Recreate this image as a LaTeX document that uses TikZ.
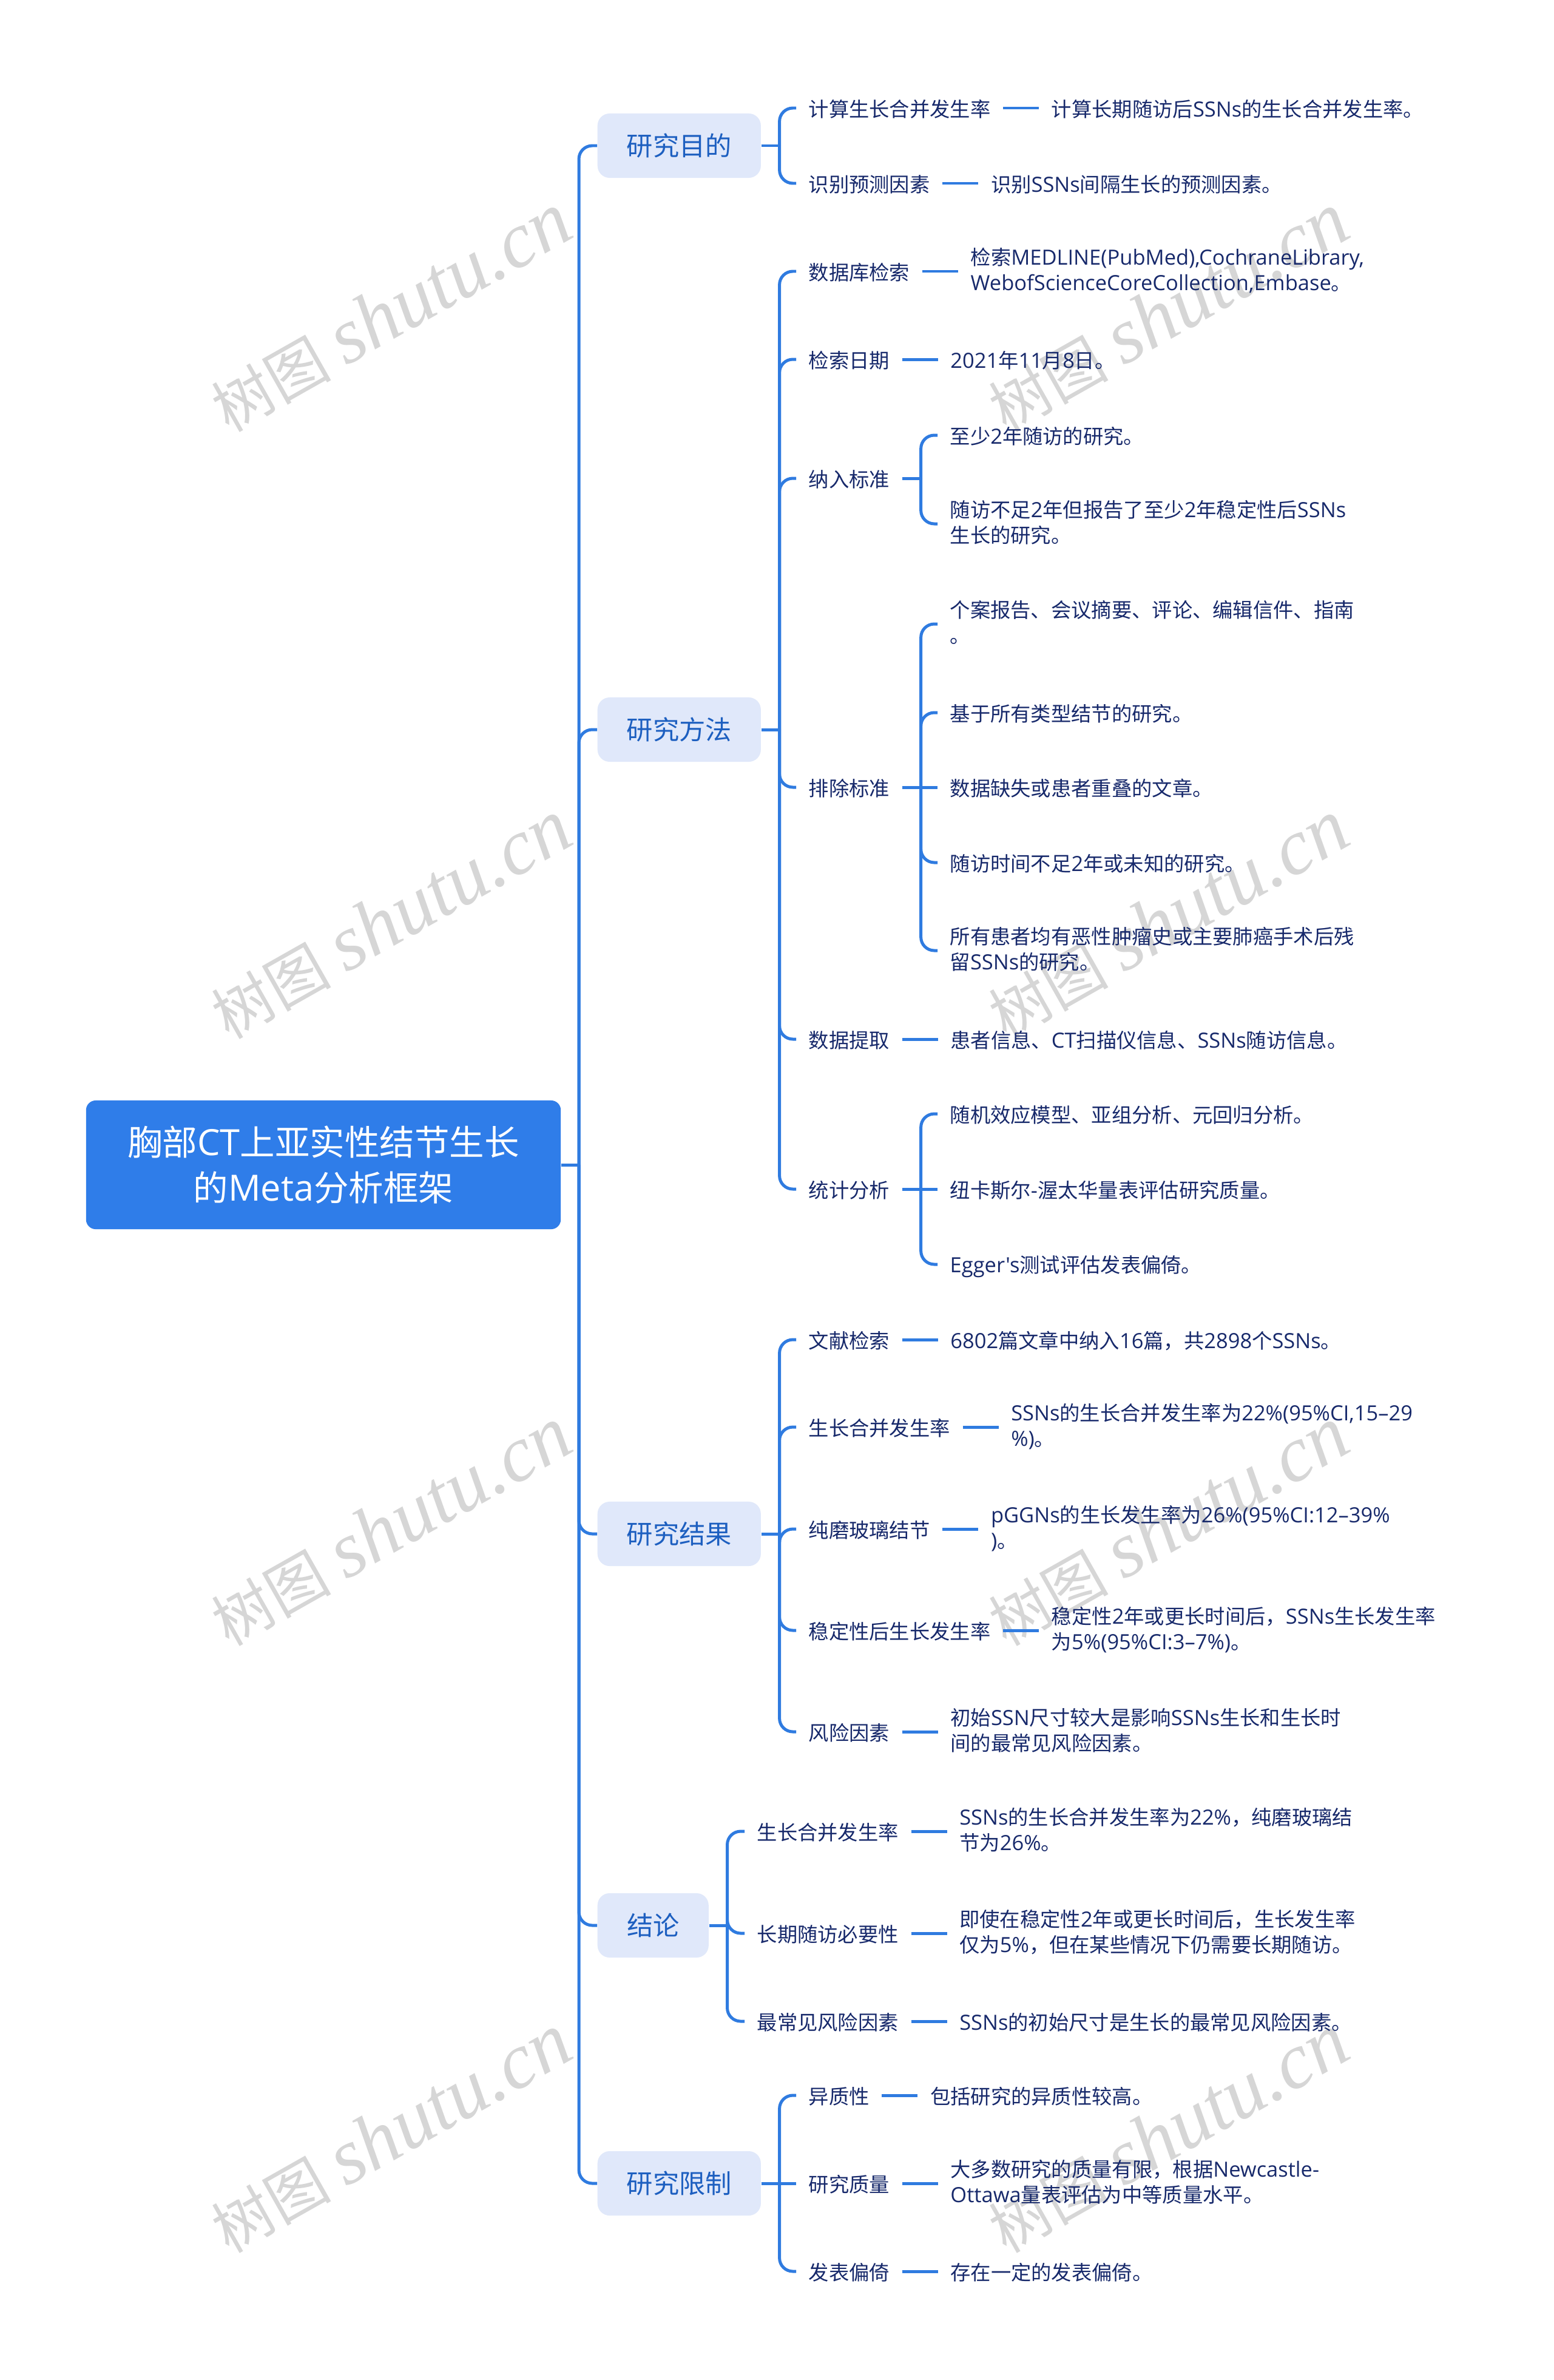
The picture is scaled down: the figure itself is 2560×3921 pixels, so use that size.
\documentclass[tikz,border=0pt]{standalone}
\usepackage{fontspec}
\usetikzlibrary{positioning}
\setmainfont{Noto Sans CJK SC}
\newfontfamily\cjkf{Noto Sans CJK SC}
\newfontfamily\latf[Scale=1.035]{Open Sans}
\newfontfamily\wmlat{Liberation Serif}
\newcommand\ichlat{\latf}
\newcommand\ichcjk{\cjkf}
\newcommand\lstrut{\rule[-2pt]{0pt}{12.1pt}}
\newcommand\estrut{\rule[-.6pt]{0pt}{8pt}}
\XeTeXinterchartokenstate=1
\newXeTeXintercharclass\cjkcls
\makeatletter
\count@="2E80
\loop\ifnum\count@<"A000 \XeTeXcharclass\count@=\cjkcls \advance\count@ by 1 \repeat
\count@="FF00
\loop\ifnum\count@<"FFF0 \XeTeXcharclass\count@=\cjkcls \advance\count@ by 1 \repeat
\makeatother
\XeTeXinterchartoks 0 \cjkcls = {\ichcjk}
\XeTeXinterchartoks \cjkcls 0 = {\ichlat}
\XeTeXinterchartoks 4095 \cjkcls = {\ichcjk}
\XeTeXinterchartoks 4095 0 = {\ichlat}
\definecolor{rootblue}{HTML}{2F7DE9}
\definecolor{linkblue}{HTML}{2F7BE0}
\definecolor{mainfill}{HTML}{E0E8FA}
\definecolor{maintext}{HTML}{1D5FC0}
\definecolor{leaftext}{HTML}{17296B}
\definecolor{wmgrey}{HTML}{D6D6D6}
\newcommand\wmtext{{\cjkf\fontsize{28}{32}\selectfont 树图}\hspace{.25cm}{\let\ichlat\relax\let\ichcjk\relax\wmlat\itshape shutu.cn}}
\tikzset{
  conn/.style={draw=linkblue,line width=1.42pt,rounded corners=.22cm},
  rootbox/.style={fill=rootblue,text=white,rounded corners=.16cm,align=center,inner sep=0pt,
    minimum width=7.82cm,minimum height=2.12cm,font=\fontsize{16.35}{21.34}\selectfont},
  mainbox/.style={fill=mainfill,text=maintext,rounded corners=.2cm,inner sep=0pt,anchor=west,
    minimum width=2.69cm,minimum height=1.06cm,font=\fontsize{12.3}{14}\selectfont},
  subnode/.style={text=leaftext,inner xsep=.2cm,inner ysep=0pt,anchor=west,
    font=\fontsize{9.47}{12.09}\selectfont,execute at begin node=\lstrut},
  leafnode/.style={text=leaftext,inner xsep=.2cm,inner ysep=0pt,anchor=west,align=left,
    font=\fontsize{9.47}{12.09}\selectfont,execute at begin node=\lstrut,execute at end node=\estrut},
  wmark/.style={text=wmgrey,rotate=29.5,inner sep=0pt,
    font=\fontsize{37}{42}\selectfont},
}
\begin{document}
\begin{tikzpicture}[x=0.01cm,y=-0.01cm]
\useasboundingbox (0,0) rectangle (2560,3921);
\fill[white] (0,0) rectangle (2560,3921);
% watermarks
\node[wmark] (wl1) at (644,515) {\wmtext};
\node[wmark] (wr1) at (1925,515) {\wmtext};
\node[wmark] (wl2) at (644,1515) {\wmtext};
\node[wmark] (wr2) at (1925,1515) {\wmtext};
\node[wmark] (wl3) at (644,2515) {\wmtext};
\node[wmark] (wr3) at (1925,2515) {\wmtext};
\node[wmark] (wl4) at (644,3515) {\wmtext};
\node[wmark] (wr4) at (1925,3515) {\wmtext};
% root
\node[rootbox] (root) at (533,1919) {胸部CT上亚实性结节生长\\的Meta分析框架};
\coordinate (trunk) at (954,1919);
% main boxes
\node[mainbox] (m1) at (984,240) {研究目的};
\node[mainbox] (m2) at (984,1202) {研究方法};
\node[mainbox] (m3) at (984,2527) {研究结果};
\node[mainbox,minimum width=1.83cm] (m4) at (984,3172) {结论};
\node[mainbox] (m5) at (984,3597) {研究限制};
\draw[conn] (root.east) -- (trunk);
\foreach \m in {m1,m2,m3,m4,m5} \draw[conn] (trunk) |- (\m.west);
% spines
\coordinate (sp1) at ([xshift=.3cm]m1.east);
\coordinate (sp2) at ([xshift=.3cm]m2.east);
\coordinate (sp3) at ([xshift=.3cm]m3.east);
\coordinate (sp4) at ([xshift=.3cm]m4.east);
\coordinate (sp5) at ([xshift=.3cm]m5.east);
\foreach \i in {1,...,5} \draw[conn] (m\i.east) -- (sp\i);
% 研究目的
\node[subnode] (a1) at (1312,178) {计算生长合并发生率};
\node[subnode] (a2) at (1312,302) {识别预测因素};
\node[leafnode,right=.59cm of a1] (a1l) {计算长期随访后SSNs的生长合并发生率。};
\node[leafnode,right=.59cm of a2] (a2l) {识别SSNs间隔生长的预测因素。};
% 研究方法
\node[subnode] (b1) at (1312,447) {数据库检索};
\node[subnode] (b2) at (1312,592) {检索日期};
\node[subnode] (b3) at (1312,788) {纳入标准};
\node[subnode] (b4) at (1312,1297) {排除标准};
\node[subnode] (b5) at (1312,1712) {数据提取};
\node[subnode] (b6) at (1312,1959) {统计分析};
\node[leafnode,right=.59cm of b1] (b1l) {检索MEDLINE(PubMed),CochraneLibrary,\\WebofScienceCoreCollection,Embase。};
\node[leafnode,right=.59cm of b2] (b2l) {2021年11月8日。};
\node[leafnode,right=.59cm of b5] (b5l) {患者信息、CT扫描仪信息、SSNs随访信息。};
\node[leafnode] (b31) at (1545,717) {至少2年随访的研究。};
\node[leafnode] (b32) at (1545,863) {随访不足2年但报告了至少2年稳定性后SSNs\\生长的研究。};
\node[leafnode] (b41) at (1545,1028) {个案报告、会议摘要、评论、编辑信件、指南\\。};
\node[leafnode] (b42) at (1545,1174) {基于所有类型结节的研究。};
\node[leafnode] (b43) at (1545,1297) {数据缺失或患者重叠的文章。};
\node[leafnode] (b44) at (1545,1421) {随访时间不足2年或未知的研究。};
\node[leafnode] (b45) at (1545,1566) {所有患者均有恶性肿瘤史或主要肺癌手术后残\\留SSNs的研究。};
\node[leafnode] (b61) at (1545,1835) {随机效应模型、亚组分析、元回归分析。};
\node[leafnode] (b62) at (1545,1959) {纽卡斯尔-渥太华量表评估研究质量。};
\node[leafnode] (b63) at (1545,2083) {Egger's测试评估发表偏倚。};
\coordinate (sb3) at ([xshift=.31cm]b3.east);
\coordinate (sb4) at ([xshift=.31cm]b4.east);
\coordinate (sb6) at ([xshift=.31cm]b6.east);
% 研究结果
\node[subnode] (c1) at (1312,2207) {文献检索};
\node[subnode] (c2) at (1312,2351) {生长合并发生率};
\node[subnode] (c3) at (1312,2519) {纯磨玻璃结节};
\node[subnode] (c4) at (1312,2686) {稳定性后生长发生率};
\node[subnode] (c5) at (1312,2853) {风险因素};
\node[leafnode,right=.59cm of c1] (c1l) {6802篇文章中纳入16篇，共2898个SSNs。};
\node[leafnode,right=.59cm of c2] (c2l) {SSNs的生长合并发生率为22\%(95\%CI,15–29\\\%)。};
\node[leafnode,right=.59cm of c3] (c3l) {pGGNs的生长发生率为26\%(95\%CI:12–39\%\\)。};
\node[leafnode,right=.59cm of c4] (c4l) {稳定性2年或更长时间后，SSNs生长发生率\\为5\%(95\%CI:3–7\%)。};
\node[leafnode,right=.59cm of c5] (c5l) {初始SSN尺寸较大是影响SSNs生长和生长时\\间的最常见风险因素。};
% 结论
\node[subnode] (d1) at (1227,3017) {生长合并发生率};
\node[subnode] (d2) at (1227,3185) {长期随访必要性};
\node[subnode] (d3) at (1227,3330) {最常见风险因素};
\node[leafnode,right=.59cm of d1] (d1l) {SSNs的生长合并发生率为22\%，纯磨玻璃结\\节为26\%。};
\node[leafnode,right=.59cm of d2] (d2l) {即使在稳定性2年或更长时间后，生长发生率\\仅为5\%，但在某些情况下仍需要长期随访。};
\node[leafnode,right=.59cm of d3] (d3l) {SSNs的初始尺寸是生长的最常见风险因素。};
% 研究限制
\node[subnode] (e1) at (1312,3452) {异质性};
\node[subnode] (e2) at (1312,3597) {研究质量};
\node[subnode] (e3) at (1312,3742) {发表偏倚};
\node[leafnode,right=.59cm of e1] (e1l) {包括研究的异质性较高。};
\node[leafnode,right=.59cm of e2] (e2l) {大多数研究的质量有限，根据Newcastle-\\Ottawa量表评估为中等质量水平。};
\node[leafnode,right=.59cm of e3] (e3l) {存在一定的发表偏倚。};
% spine-to-child links
\foreach \c in {a1,a2} \draw[conn] (sp1) |- (\c.west);
\foreach \c in {b1,b2,b3,b4,b5,b6} \draw[conn] (sp2) |- (\c.west);
\foreach \c in {c1,c2,c3,c4,c5} \draw[conn] (sp3) |- (\c.west);
\foreach \c in {d1,d2,d3} \draw[conn] (sp4) |- (\c.west);
\foreach \c in {e1,e3} \draw[conn] (sp5) |- (\c.west);
\draw[conn] (m5.east) -- (e2.west);
% child-to-leaf links
\foreach \c in {a1,a2,b1,b2,b5,c1,c2,c3,c4,c5,d1,d2,d3,e1,e2,e3} \draw[conn] (\c.east) -- (\c l.west);
\foreach \c in {b3,b4,b6} \draw[conn] (\c.east) -- (s\c);
\foreach \c in {b31,b32} \draw[conn] (sb3) |- (\c.west);
\foreach \c in {b41,b42,b44,b45} \draw[conn] (sb4) |- (\c.west);
\draw[conn] (sb4) -- (b43.west);
\foreach \c in {b61,b63} \draw[conn] (sb6) |- (\c.west);
\draw[conn] (sb6) -- (b62.west);
\end{tikzpicture}
\end{document}
